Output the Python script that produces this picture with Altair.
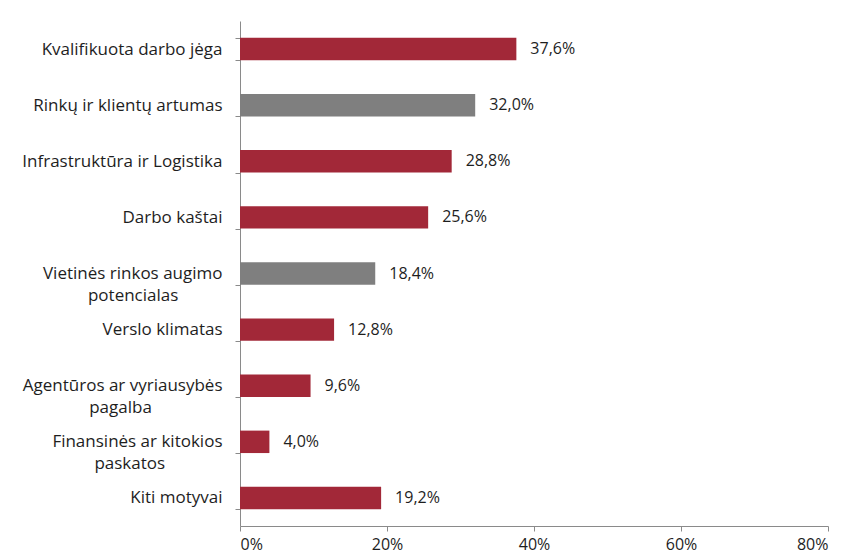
import altair as alt
import pandas as pd

categories = [
    ["Kvalifikuota darbo jėga"],
    ["Rinkų ir klientų artumas"],
    ["Infrastruktūra ir Logistika"],
    ["Darbo kaštai"],
    ["Vietinės rinkos augimo", "potencialas"],
    ["Verslo klimatas"],
    ["Agentūros ar vyriausybės", "pagalba"],
    ["Finansinės ar kitokios", "paskatos"],
    ["Kiti motyvai"],
]
values = [37.6, 32.0, 28.8, 25.6, 18.4, 12.8, 9.6, 4.0, 19.2]
groups = ["a", "b", "a", "a", "b", "a", "a", "a", "a"]
x_ticks = [0, 20, 40, 60, 80]

NBSP = "\u00a0"
WJ = "\u2060"


def label_text(lines):
    # second line centred under the first (Excel-style wrapped label)
    if len(lines) == 1:
        return lines[0]
    pad = NBSP * round((len(lines[0]) - len(lines[1])) * 0.95)
    return lines[0] + "\n" + lines[1] + pad + WJ


df = pd.DataFrame(
    {"cat": [label_text(c) for c in categories], "value": values, "group": groups}
)

FONT = "Open Sans"
TXT = "#1e1e1e"

y = alt.Y(
    "cat:N",
    sort=None,
    title=None,
    scale=alt.Scale(paddingInner=0.6, paddingOuter=0.3),
    axis=alt.Axis(
        labelExpr="split(datum.label, '\\n')",
        labelFont=FONT,
        labelFontSize=17,
        labelColor=TXT,
        labelPadding=13,
        labelLineHeight=22,
        labelLimit=400,
        tickBand="extent",
        tickSize=5,
        tickColor="#8a8a8a",
        domainColor="#8a8a8a",
        minExtent=232,
        maxExtent=232,
    ),
)

x = alt.X(
    "value:Q",
    title=None,
    scale=alt.Scale(domain=[0, 80], nice=False),
    axis=alt.Axis(
        values=x_ticks,
        labelExpr="datum.value + '%'",
        labelFont=FONT,
        labelFontSize=16,
        labelColor=TXT,
        labelPadding=5,
        tickSize=5,
        tickColor="#8a8a8a",
        domainColor="#8a8a8a",
        grid=False,
    ),
)

bars = alt.Chart(df).mark_bar().encode(
    y=y,
    x=x,
    color=alt.Color(
        "group:N",
        scale=alt.Scale(domain=["a", "b"], range=["#a22838", "#7f7f7f"]),
        legend=None,
    ),
)

labels = (
    alt.Chart(df)
    .transform_calculate(txt="replace(format(datum.value, '.1f'), '.', ',') + '%'")
    .mark_text(align="left", baseline="middle", dx=14, font=FONT, fontSize=16, color=TXT)
    .encode(y=alt.Y("cat:N", sort=None), x="value:Q", text="txt:N")
)

chart = (
    alt.layer(bars, labels)
    .properties(
        width=588,
        height=505,
        padding={"left": 0, "top": 4, "right": 0, "bottom": 5},
        background="white",
    )
    .configure_view(stroke=None)
)

chart.save("out.html", embed_options={"renderer": "svg", "actions": False})
